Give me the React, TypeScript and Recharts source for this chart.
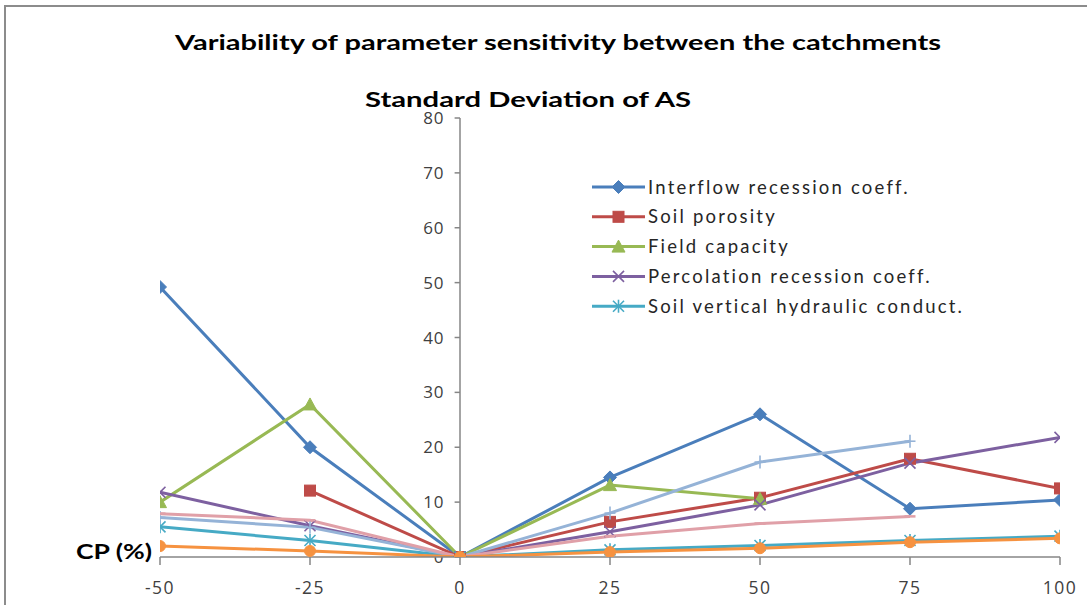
import React from 'react';
import { LineChart, Line, XAxis, YAxis, ReferenceLine, Legend } from 'recharts';

// ---- data ----
const cpValues = [-50, -25, 0, 25, 50, 75, 100];
const interflow = [49.2, 20.0, 0, 14.5, 26.0, 8.8, 10.4];
const soilPorosity = [null, 12.1, 0, 6.4, 10.8, 17.9, 12.5];
const fieldCapacity = [10.0, 27.8, 0, 13.1, 10.6, null, null];
const percolation = [11.8, 5.7, 0, 4.6, 9.5, 17.1, 21.8];
const soilVertical = [5.5, 3.0, 0, 1.3, 2.1, 3.0, 3.8];
const extraLightBlue = [7.2, 5.4, 0, 8.0, 17.3, 21.1, null];
const extraPink = [7.9, 6.7, 0, 3.8, 6.1, 7.4, null];
const extraOrange = [2.0, 1.1, 0, 0.9, 1.6, 2.7, 3.4];
const yTicks = [0, 10, 20, 30, 40, 50, 60, 70, 80];
const xTicks = [-50, -25, 0, 25, 50, 75, 100];

const TITLE = 'Variability of parameter sensitivity between the catchments';
const SUBTITLE = 'Standard Deviation of AS';
const X_LABEL = 'CP (%)';

type Shape = 'diamond' | 'square' | 'triangle' | 'x' | 'asterisk' | 'circle' | 'plus' | 'dash';

const series: { key: string; name: string; values: (number | null)[]; color: string; shape: Shape; legend: boolean }[] = [
  { key: 'interflow', name: 'Interflow recession coeff.', values: interflow, color: '#4A7EBB', shape: 'diamond', legend: true },
  { key: 'porosity', name: 'Soil porosity', values: soilPorosity, color: '#BE4B48', shape: 'square', legend: true },
  { key: 'field', name: 'Field capacity', values: fieldCapacity, color: '#98B954', shape: 'triangle', legend: true },
  { key: 'percolation', name: 'Percolation recession coeff.', values: percolation, color: '#7D60A0', shape: 'x', legend: true },
  { key: 'vertical', name: 'Soil vertical hydraulic conduct.', values: soilVertical, color: '#46AAC5', shape: 'asterisk', legend: true },
  { key: 'lightblue', name: 'Series 7', values: extraLightBlue, color: '#95B3D7', shape: 'plus', legend: false },
  { key: 'pink', name: 'Series 8', values: extraPink, color: '#E0A0A8', shape: 'dash', legend: false },
  { key: 'orange', name: 'Series 6', values: extraOrange, color: '#F69240', shape: 'circle', legend: false },
];

const data = cpValues.map((cp, i) => {
  const row: Record<string, number | null> = { cp };
  series.forEach((s) => {
    row[s.key] = s.values[i];
  });
  return row;
});

function Marker({ shape, x, y, color, size }: { shape: Shape; x: number; y: number; color: string; size: number }) {
  const h = size / 2;
  switch (shape) {
    case 'diamond':
      return <polygon points={`${x},${y - h - 1} ${x + h + 1},${y} ${x},${y + h + 1} ${x - h - 1},${y}`} fill={color} stroke={color} />;
    case 'square':
      return <rect x={x - h} y={y - h} width={size} height={size} fill={color} stroke={color} />;
    case 'triangle':
      return <polygon points={`${x},${y - h - 1} ${x + h + 1},${y + h} ${x - h - 1},${y + h}`} fill={color} stroke={color} />;
    case 'x':
      return (
        <g stroke={color} strokeWidth={1.6}>
          <line x1={x - h} y1={y - h} x2={x + h} y2={y + h} />
          <line x1={x - h} y1={y + h} x2={x + h} y2={y - h} />
        </g>
      );
    case 'asterisk':
      return (
        <g stroke={color} strokeWidth={1.6}>
          <line x1={x - h} y1={y - h} x2={x + h} y2={y + h} />
          <line x1={x - h} y1={y + h} x2={x + h} y2={y - h} />
          <line x1={x} y1={y - h - 1} x2={x} y2={y + h + 1} />
        </g>
      );
    case 'circle':
      return <circle cx={x} cy={y} r={h} fill={color} stroke={color} />;
    case 'plus':
      return (
        <g stroke={color} strokeWidth={1.6}>
          <line x1={x - h} y1={y} x2={x + h} y2={y} />
          <line x1={x} y1={y - h - 1} x2={x} y2={y + h + 1} />
        </g>
      );
    case 'dash':
      return <line x1={x - h} y1={y} x2={x + h} y2={y} stroke={color} strokeWidth={2.5} />;
  }
  return null;
}

const makeDot = (shape: Shape, color: string) => (props: any) => {
  const { cx, cy, value, index } = props;
  if (cx == null || cy == null || value == null || Number.isNaN(cy)) return <g key={`d-${index}`} />;
  return (
    <g key={`d-${index}`}>
      <Marker shape={shape} x={cx} y={cy} color={color} size={11} />
    </g>
  );
};

const LegendContent = (props: any) => {
  const payload: any[] = props.payload || [];
  const names = new Set(payload.map((p) => p.value));
  const items = series.filter((s) => s.legend && names.has(s.name));
  return (
    <svg width={420} height={160} style={{ display: 'block' }}>
      {items.map((s, i) => {
        const y = 15 + i * 29.8;
        return (
          <g key={s.key}>
            <line x1={2} x2={55} y1={y} y2={y} stroke={s.color} strokeWidth={3} />
            <Marker shape={s.shape} x={28.5} y={y} color={s.color} size={11} />
            <text x={58} y={y + 6.5} fontFamily="Lato, 'Open Sans', sans-serif" fontSize={18.5} fill="#262626" letterSpacing={2.2}>
              {s.name}
            </text>
          </g>
        );
      })}
    </svg>
  );
};

const YTickLabel = (props: any) => {
  const { viewBox, value } = props;
  if (!viewBox) return null;
  return (
    <text x={viewBox.x - 10} y={viewBox.y + 6} textAnchor="end" fontFamily="'Open Sans', sans-serif" fontSize={17} fill="#404040" letterSpacing={1}>
      {value}
    </text>
  );
};

export default function App() {
  return (
    <div style={{ position: 'absolute', left: 0, top: 0, width: 1087, height: 605, overflow: 'hidden', background: '#fff' }}>
      <div
        style={{
          position: 'absolute',
          left: 4,
          top: 5,
          width: 1200,
          height: 700,
          borderTop: '2px solid #8c8c8c',
          borderLeft: '2px solid #8c8c8c',
        }}
      />
      <div style={{ position: 'absolute', left: 0, top: 0 }}>
        <LineChart width={1087} height={605} data={data} margin={{ top: 118, right: 27, bottom: 8, left: 160 }}>
          <XAxis
            dataKey="cp"
            type="number"
            domain={[-50, 100]}
            ticks={xTicks}
            allowDataOverflow
            height={40}
            axisLine={{ stroke: '#868686', strokeWidth: 1.5 }}
            tickLine={{ stroke: '#868686', strokeWidth: 1.5 }}
            tickSize={8}
            tickMargin={17}
            tick={{ fontSize: 17.5, fill: '#404040', fontFamily: "'Open Sans', sans-serif", letterSpacing: 1.5 }}
          />
          <YAxis hide type="number" domain={[0, 80]} ticks={yTicks} allowDataOverflow />
          <ReferenceLine x={0} stroke="#868686" strokeWidth={1.5} />
          {yTicks.map((t) => (
            <ReferenceLine
              key={`yt-${t}`}
              segment={[
                { x: -0.9, y: t },
                { x: 0, y: t },
              ]}
              stroke="#868686"
              strokeWidth={1.5}
              label={<YTickLabel value={t} />}
            />
          ))}
          {series.map((s) => (
            <Line
              key={s.key}
              dataKey={s.key}
              name={s.name}
              stroke={s.color}
              strokeWidth={3}
              dot={makeDot(s.shape, s.color)}
              activeDot={false}
              isAnimationActive={false}
              legendType={s.legend ? 'line' : 'none'}
            />
          ))}
          <Legend
            layout="horizontal"
            verticalAlign="middle"
            align="center"
            content={<LegendContent />}
            wrapperStyle={{ position: 'absolute', left: 590, top: 172, width: 420, height: 160 }}
          />
        </LineChart>
      </div>
      <svg width={1087} height={605} style={{ position: 'absolute', left: 0, top: 0, pointerEvents: 'none' }}>
        <text x={558} y={50} textAnchor="middle" fontFamily="Lato, 'Open Sans', sans-serif" fontWeight="bold" fontSize={21} fill="#000" textLength={766} lengthAdjust="spacingAndGlyphs">
          {TITLE}
        </text>
        <text x={528} y={107} textAnchor="middle" fontFamily="Lato, 'Open Sans', sans-serif" fontWeight="bold" fontSize={21} fill="#000" textLength={326} lengthAdjust="spacingAndGlyphs">
          {SUBTITLE}
        </text>
        <text x={152} y={559} textAnchor="end" fontFamily="Lato, 'Open Sans', sans-serif" fontWeight="bold" fontSize={21} fill="#000" textLength={76} lengthAdjust="spacingAndGlyphs">
          {X_LABEL}
        </text>
      </svg>
    </div>
  );
}
